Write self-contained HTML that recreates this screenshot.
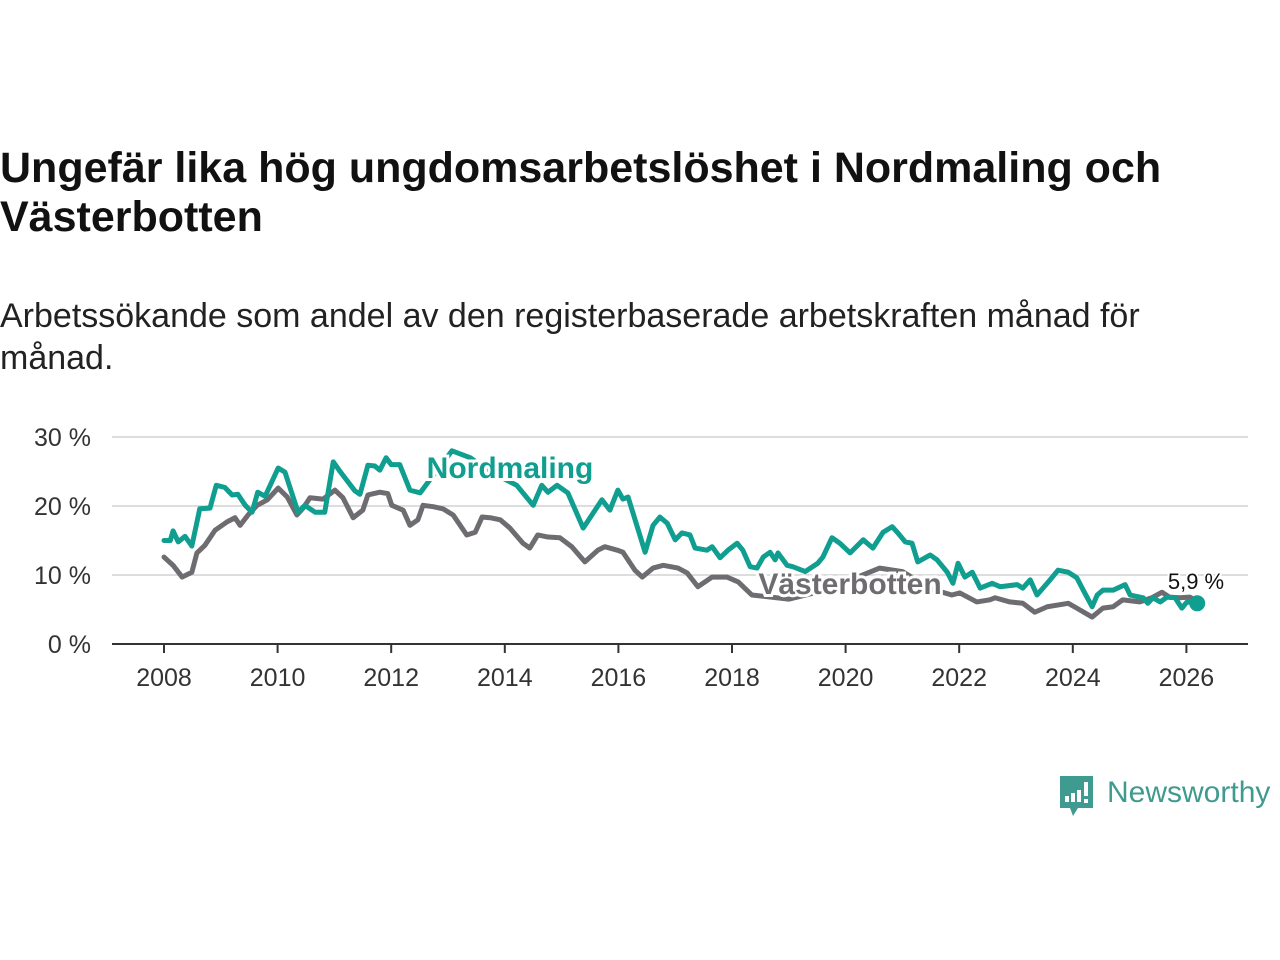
<!DOCTYPE html>
<html><head><meta charset="utf-8">
<style>
body{margin:0;background:#fff;width:1280px;height:960px;overflow:hidden;font-family:"Liberation Sans",sans-serif;}
#title{position:absolute;left:0;top:144px;font-size:43px;font-weight:bold;color:#111;line-height:49px;width:1270px;}
#sub{position:absolute;left:0;top:295px;font-size:34px;color:#222;line-height:42px;width:1200px;}
svg{position:absolute;left:0;top:0;}
</style></head><body>
<div id="title">Ungefär lika hög ungdomsarbetslöshet i Nordmaling och Västerbotten</div>
<div id="sub">Arbetssökande som andel av den registerbaserade arbetskraften månad för månad.</div>
<svg id="chart" width="1280" height="960"></svg>
<script>
const yTicks=[0,10,20,30];
const xTicks=[2008,2010,2012,2014,2016,2018,2020,2022,2024,2026];
const nordDates=[2008.00,2008.11,2008.16,2008.25,2008.37,2008.49,2008.63,2008.81,2008.92,2009.07,2009.20,2009.30,2009.43,2009.55,2009.65,2009.78,2010.01,2010.13,2010.36,2010.48,2010.66,2010.83,2010.98,2011.10,2011.36,2011.45,2011.59,2011.71,2011.80,2011.91,2012.00,2012.15,2012.33,2012.51,2012.68,2013.07,2013.39,2013.74,2014.21,2014.50,2014.65,2014.76,2014.92,2015.11,2015.38,2015.71,2015.85,2015.99,2016.08,2016.17,2016.47,2016.61,2016.73,2016.86,2017.00,2017.12,2017.26,2017.35,2017.56,2017.65,2017.79,2017.93,2018.09,2018.19,2018.32,2018.44,2018.55,2018.67,2018.76,2018.81,2018.97,2019.07,2019.29,2019.51,2019.60,2019.76,2019.90,2020.08,2020.31,2020.48,2020.66,2020.82,2020.92,2021.05,2021.17,2021.27,2021.49,2021.61,2021.79,2021.89,2021.98,2022.10,2022.23,2022.37,2022.58,2022.72,2023.02,2023.12,2023.25,2023.37,2023.60,2023.74,2023.92,2024.07,2024.21,2024.34,2024.43,2024.53,2024.71,2024.92,2025.01,2025.24,2025.32,2025.41,2025.54,2025.66,2025.80,2025.92,2026.01,2026.19];
const nordValues=[15.0,15.0,16.4,14.8,15.6,14.2,19.6,19.7,23.0,22.7,21.6,21.7,20.1,19.1,22.0,21.4,25.5,24.9,19.1,20.1,19.1,19.1,26.4,25.0,22.2,21.7,25.9,25.8,25.2,27.0,26.0,26.0,22.3,21.9,23.8,28.0,27.0,25.0,23.0,20.1,23.0,22.0,23.0,21.9,16.8,20.9,19.4,22.3,21.0,21.3,13.3,17.2,18.4,17.5,15.1,16.1,15.8,13.9,13.6,14.1,12.5,13.6,14.6,13.6,11.2,11.0,12.6,13.3,12.2,13.2,11.4,11.2,10.5,11.7,12.6,15.4,14.6,13.2,15.1,13.9,16.2,17.0,16.1,14.8,14.6,11.9,12.9,12.2,10.4,8.8,11.7,9.7,10.4,8.1,8.8,8.3,8.6,8.1,9.3,7.1,9.3,10.7,10.4,9.6,7.4,5.4,7.1,7.8,7.8,8.6,7.1,6.7,5.9,6.7,6.1,6.8,6.7,5.2,6.1,5.9];
const vbDates=[2008.00,2008.16,2008.32,2008.49,2008.58,2008.72,2008.90,2009.11,2009.25,2009.34,2009.48,2009.64,2009.82,2010.01,2010.17,2010.34,2010.45,2010.57,2010.80,2011.01,2011.15,2011.33,2011.50,2011.59,2011.80,2011.94,2012.01,2012.21,2012.33,2012.47,2012.56,2012.74,2012.91,2013.09,2013.33,2013.48,2013.60,2013.74,2013.92,2014.09,2014.32,2014.44,2014.58,2014.76,2014.97,2015.18,2015.41,2015.64,2015.76,2015.98,2016.08,2016.29,2016.42,2016.61,2016.79,2017.05,2017.21,2017.40,2017.65,2017.91,2018.11,2018.35,2019.00,2019.50,2020.00,2020.60,2021.00,2021.50,2021.87,2022.01,2022.31,2022.54,2022.63,2022.89,2023.12,2023.33,2023.55,2023.92,2024.07,2024.34,2024.53,2024.71,2024.88,2025.18,2025.39,2025.57,2025.70,2025.88,2026.06,2026.19];
const vbValues=[12.6,11.4,9.7,10.4,13.2,14.3,16.5,17.7,18.3,17.2,18.7,20.1,20.9,22.6,21.3,18.7,19.7,21.2,21.0,22.3,21.2,18.3,19.4,21.6,22.0,21.8,20.1,19.4,17.2,18.0,20.1,19.9,19.6,18.7,15.8,16.2,18.4,18.3,18.0,16.8,14.6,13.9,15.8,15.5,15.4,14.1,11.9,13.6,14.1,13.6,13.3,10.7,9.7,11.0,11.4,11.0,10.3,8.3,9.7,9.7,9.0,7.1,6.5,7.5,9.0,11.0,10.5,8.0,7.1,7.4,6.1,6.4,6.7,6.1,5.9,4.6,5.4,5.9,5.2,3.9,5.2,5.4,6.4,6.1,6.7,7.5,6.8,6.7,6.8,6.2];
const NS='http://www.w3.org/2000/svg';
const svg=document.getElementById('chart');
const X0=112,X1=1248;
function xs(y){return 164+(y-2008)*56.8;}
function ys(v){return 644-v*6.9;}
function mk(t,a,p){const e=document.createElementNS(NS,t);for(const k in a)e.setAttribute(k,a[k]);(p||svg).appendChild(e);return e;}
yTicks.forEach(v=>{
  if(v>0){const g=mk('line',{x1:X0,x2:X1,y1:ys(v),y2:ys(v),stroke:'#dddddd','stroke-width':2});
  
  }
  const t=mk('text',{x:91,y:ys(v)+9,'text-anchor':'end','font-size':25,fill:'#333','font-family':'Liberation Sans, sans-serif'});
  t.textContent=v+' %';
  
  
});
const ax=mk('line',{x1:X0,x2:X1,y1:644,y2:644,stroke:'#333','stroke-width':2});


xTicks.forEach(yr=>{
  const tk=mk('line',{x1:xs(yr),x2:xs(yr),y1:644,y2:653,stroke:'#333','stroke-width':2});
  
  
  const t=mk('text',{x:xs(yr),y:686,'text-anchor':'middle','font-size':25,fill:'#333','font-family':'Liberation Sans, sans-serif'});
  t.textContent=yr;
  
  
});
function line(d,v,c,name){
  const p=mk('polyline',{points:d.map((x,i)=>xs(x)+','+ys(v[i])).join(' '),fill:'none',stroke:c,'stroke-width':5,'stroke-linejoin':'round','stroke-linecap':'round'});
  
  
}
line(vbDates,vbValues,'#6e6c70','vasterbotten-line');
line(nordDates,nordValues,'#0f9e8f','nordmaling-line');
function lab(x,y,txt,c,name,size,bold){
  const t=mk('text',{x:x,y:y,'text-anchor':'middle','font-size':size,'font-weight':bold?'bold':'normal',fill:c,stroke:'#fff','stroke-width':bold?6:4,'paint-order':'stroke','font-family':'Liberation Sans, sans-serif'});
  t.textContent=txt;
  
  
}
lab(510,478,'Nordmaling','#0f9e8f','nordmaling-label',30,true);
lab(850,594,'Västerbotten','#6e6c70','vasterbotten-label',30,true);
const ld=nordDates.length-1;
const dot=mk('circle',{cx:xs(nordDates[ld]),cy:ys(nordValues[ld]),r:8,fill:'#0f9e8f'});


lab(1196,589,'5,9 %','#111','last-value-label',22,false);
const lg=mk('g',{});


mk('path',{d:'M1060 776 h33 v32 h-15 l-5 8 l-3 -8 h-10 z',fill:'#3f9a8f'},lg);
[[1065,796,6],[1071,793,9],[1077,790,12]].forEach(b=>mk('rect',{x:b[0],y:b[1],width:4,height:b[2],fill:'#fff'},lg));
mk('rect',{x:1084,y:782,width:4,height:14,fill:'#fff'},lg);
mk('rect',{x:1084,y:799,width:4,height:4,fill:'#fff'},lg);
const lt=mk('text',{x:1107,y:802,'font-size':30,fill:'#3f9a8f','font-family':'Liberation Sans, sans-serif'},lg);
lt.textContent='Newsworthy';
</script>
</body></html>
